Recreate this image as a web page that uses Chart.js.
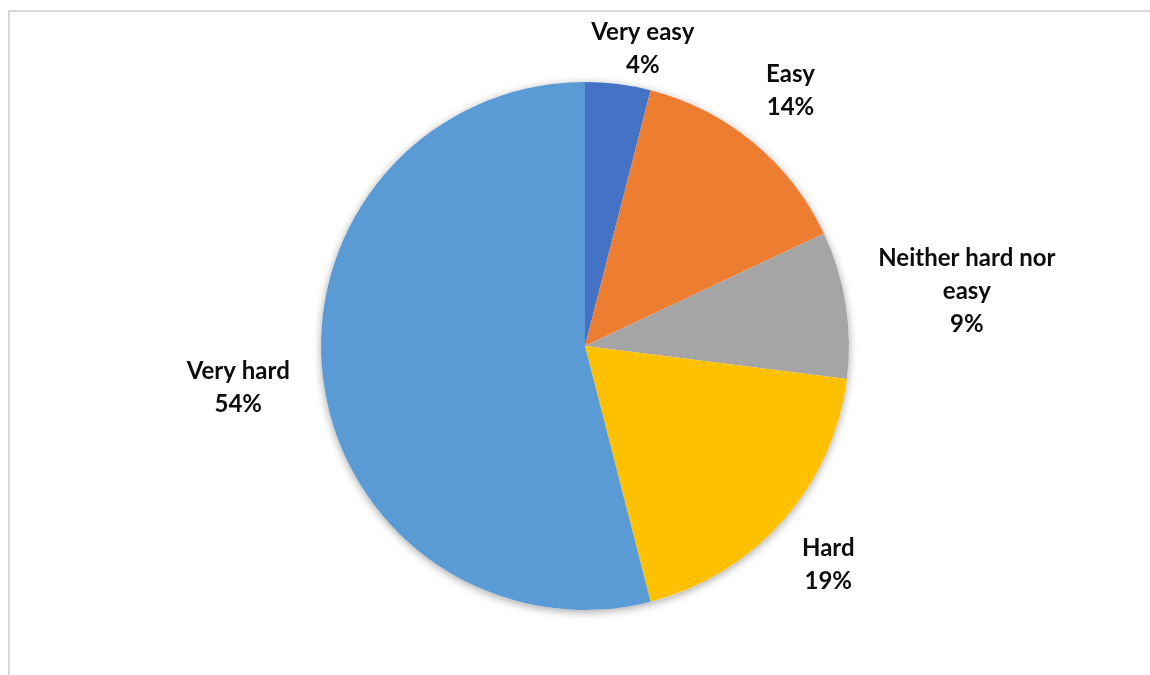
<!DOCTYPE html>
<html>
<head>
<meta charset="utf-8">
<script src="https://cdn.jsdelivr.net/npm/chart.js@4/dist/chart.umd.min.js"></script>
<style>
  html, body { margin: 0; padding: 0; background: #fff; }
  #wrap { position: relative; width: 1150px; height: 675px; overflow: hidden; }
  #frame {
    position: absolute; left: 8px; top: 10px; width: 1200px; height: 700px;
    border-top: 2px solid #d9d9d9; border-left: 2px solid #d9d9d9;
  }
  #pie { position: absolute; left: 0; top: 0; }
</style>
</head>
<body>
<div id="wrap">
  <div id="frame"></div>
  <canvas id="pie" width="1150" height="675"></canvas>
</div>
<script>
// Survey answers, percent of respondents
const categories = ['Very easy', 'Easy', 'Neither hard nor easy', 'Hard', 'Very hard'];
const shares = [4, 14, 9, 19, 54];
// how each label wraps onto lines
const labelLines = [['Very easy'], ['Easy'], ['Neither hard nor', 'easy'], ['Hard'], ['Very hard']];
const sliceColors = ['#4472C4', '#ED7D31', '#A5A5A5', '#FFC000', '#5B9BD5'];

const LABEL_FONT = 'bold 24px Lato, "Open Sans", sans-serif';
const LINE_H = 33;
const LABEL_GAP = 34;

// soft drop shadow under the whole pie
const pieShadow = {
  id: 'pieShadow',
  beforeDatasetsDraw(chart) {
    const arc = chart.getDatasetMeta(0).data[0];
    if (!arc) return;
    const ctx = chart.ctx;
    ctx.save();
    ctx.shadowColor = 'rgba(0,0,0,0.35)';
    ctx.shadowBlur = 9;
    ctx.shadowOffsetY = 2;
    ctx.fillStyle = '#ffffff';
    ctx.beginPath();
    ctx.arc(arc.x, arc.y, arc.outerRadius, 0, Math.PI * 2);
    ctx.fill();
    ctx.restore();
  }
};

// category + percent written outside each slice
const outsideLabels = {
  id: 'outsideLabels',
  afterDatasetsDraw(chart) {
    const ctx = chart.ctx;
    const meta = chart.getDatasetMeta(0);
    ctx.save();
    ctx.font = LABEL_FONT;
    ctx.fillStyle = '#0d0d0d';
    ctx.textAlign = 'center';
    ctx.textBaseline = 'middle';
    meta.data.forEach((arc, i) => {
      const lines = labelLines[i].concat([shares[i] + '%']);
      const w = Math.max(...lines.map(l => ctx.measureText(l).width));
      const h = lines.length * LINE_H;
      const mid = (arc.startAngle + arc.endAngle) / 2;
      const dx = Math.cos(mid), dy = Math.sin(mid);
      const r = arc.outerRadius + LABEL_GAP;
      let cx = arc.x + dx * r + dx * w / 2;
      let cy = arc.y + dy * r + dy * h / 2;
      // keep the block inside the frame
      const top = 16;
      if (cy - h / 2 < top) {
        cy = top + h / 2;
        cx += 14;
      }
      lines.forEach((l, k) => {
        ctx.fillText(l, cx, cy - h / 2 + LINE_H * (k + 0.5));
      });
    });
    ctx.restore();
  }
};

new Chart(document.getElementById('pie'), {
  type: 'pie',
  data: {
    labels: categories,
    datasets: [{
      data: shares,
      backgroundColor: sliceColors,
      borderWidth: 0
    }]
  },
  options: {
    responsive: false,
    animation: false,
    layout: { padding: { left: 321, right: 301, top: 82, bottom: 65 } },
    plugins: {
      legend: { display: false },
      tooltip: { enabled: false }
    }
  },
  plugins: [pieShadow, outsideLabels]
});
</script>
</body>
</html>
